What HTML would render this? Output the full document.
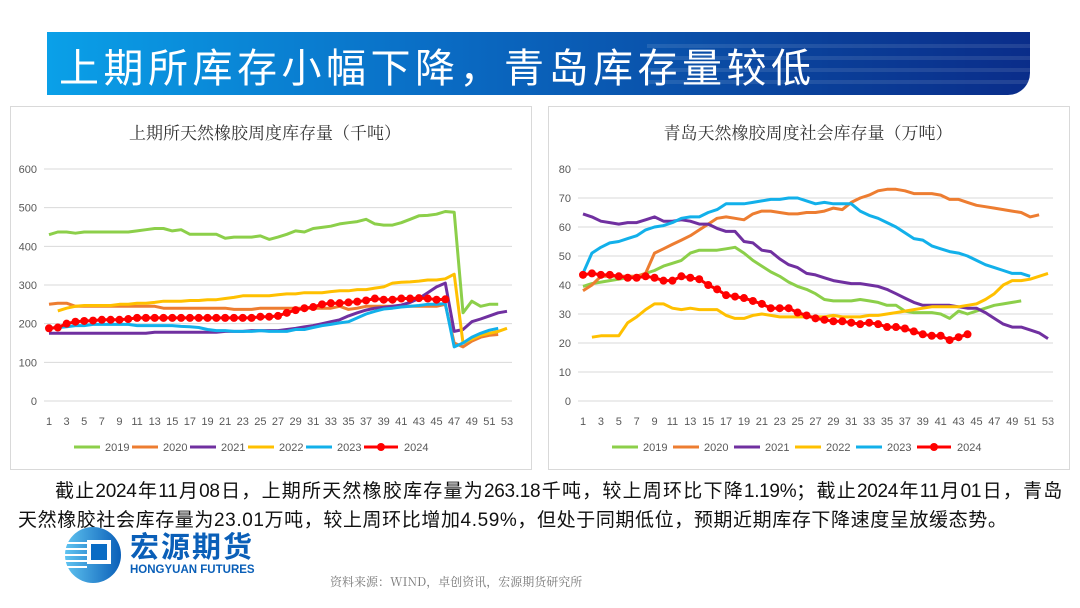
<!DOCTYPE html>
<html><head><meta charset="utf-8">
<style>
body{margin:0;width:1080px;height:608px;background:#fff;position:relative;overflow:hidden;font-family:"Liberation Sans","Noto Sans CJK SC",sans-serif}
.banner{position:absolute;left:47px;top:32px;width:983px;height:63px;background:linear-gradient(90deg,#0aa0e8 0%,#0a6cc4 40%,#0a3e98 80%,#0a2d8a 100%);border-bottom-right-radius:22px;overflow:hidden}
.banner .stripe{position:absolute;left:600px;width:400px;height:4px;background:rgba(255,255,255,0.10)}
.banner h1{position:absolute;left:12px;top:4px;margin:0;color:#fff;font:400 40px "Noto Sans CJK SC",sans-serif;letter-spacing:4.5px;white-space:nowrap}
.panel{position:absolute;top:106px;height:362px;border:1px solid #d9d9d9;background:#fff}
.para{position:absolute;left:18px;width:1044px;font:19px "Liberation Sans","Noto Sans CJK SC",sans-serif;color:#111;line-height:29px;white-space:nowrap}
.src{position:absolute;left:330px;top:573px;font:12px "Noto Serif CJK SC",serif;color:#777}
</style></head><body>
<div class="banner">
<div class="stripe" style="top:12px"></div><div class="stripe" style="top:24px"></div><div class="stripe" style="top:36px"></div><div class="stripe" style="top:48px"></div>
<h1>上期所库存小幅下降，青岛库存量较低</h1>
</div>
<div class="panel" style="left:10px;width:520px"></div>
<div class="panel" style="left:548px;width:520px"></div>
<svg id="svg" width="1080" height="608" style="position:absolute;left:0;top:0"></svg>
<div class="para" style="top:477px;left:55px;width:1007px;text-align:justify;text-align-last:justify;letter-spacing:-0.3px">截止2024年11月08日，上期所天然橡胶库存量为263.18千吨，较上周环比下降1.19%；截止2024年11月01日，青岛</div>
<div class="para" style="top:506px;letter-spacing:0.6px">天然橡胶社会库存量为23.01万吨，较上周环比增加4.59%，但处于同期低位，预期近期库存下降速度呈放缓态势。</div>
<svg width="260" height="64" style="position:absolute;left:62px;top:526px">
<defs><linearGradient id="lg" x1="0" x2="1"><stop offset="0" stop-color="#5fc3f0"/><stop offset="1" stop-color="#0a5fb8"/></linearGradient></defs>
<circle cx="31" cy="29" r="28" fill="url(#lg)"/>
<rect x="3" y="16" width="22" height="2" fill="#fff"/><rect x="3" y="22" width="22" height="2" fill="#fff"/><rect x="3" y="28" width="22" height="2" fill="#fff"/><rect x="3" y="34" width="22" height="2" fill="#fff"/><rect x="3" y="40" width="22" height="2" fill="#fff"/>
<rect x="25" y="14" width="24" height="24" fill="#fff"/><rect x="29" y="18" width="16" height="16" fill="#0a6cc4"/>
<text x="68" y="31" font-size="29" font-weight="bold" fill="#0a5fb8" font-family="Noto Sans CJK SC,sans-serif" letter-spacing="2">宏源期货</text>
<text x="68" y="47" font-size="11.5" font-weight="bold" fill="#0a5fb8" font-family="Liberation Sans,sans-serif">HONGYUAN FUTURES</text>
</svg>
<div class="src">资料来源：WIND，卓创资讯，宏源期货研究所</div>
<script>
const weeks=[];for(let i=1;i<=53;i++)weeks.push(i);
const leftTicks=[0,100,200,300,400,500,600];
const rightTicks=[0,10,20,30,40,50,60,70,80];
const years=["2019","2020","2021","2022","2023","2024"];
const colors=["#8ccf4a","#ed7d31","#7030a0","#ffc000","#12b0ea","#ff0000"];
const L2019=[430,437,437,434,437,437,437,437,437,437,440,443,446,446,440,443,431,431,431,431,421,424,424,424,427,418,424,431,440,437,446,449,452,458,461,464,470,458,455,455,461,470,479,480,483,490,488,228,258,245,250,250];
const L2020=[250,253,253,245,245,245,245,245,245,245,245,245,245,240,240,240,240,240,240,240,240,237,237,237,240,240,240,240,240,240,240,240,240,245,237,240,245,245,245,245,245,245,245,245,245,250,150,140,155,165,170,172];
const L2021=[175,175,175,175,175,175,175,175,175,175,175,175,178,178,178,178,178,178,178,178,180,180,180,182,182,182,182,185,188,192,195,200,205,210,220,228,235,240,242,245,248,255,265,280,295,305,180,185,205,212,220,228,232];
const L2022=[null,233,240,245,247,247,247,247,250,250,253,253,255,258,258,258,260,260,262,262,265,268,272,272,272,272,275,277,277,280,280,280,283,285,285,288,288,292,295,305,307,308,310,313,313,316,328,150,160,170,175,180,188];
const L2023=[188,190,192,195,195,198,198,198,198,198,195,195,195,195,195,193,192,190,185,182,182,180,180,180,182,180,180,180,185,185,190,195,198,202,205,215,225,232,238,240,243,245,247,250,250,252,140,150,165,175,183,188];
const L2024=[188,190,200,205,207,208,210,210,210,212,215,215,215,215,215,215,215,215,215,215,215,215,215,215,218,218,220,228,235,240,243,250,253,253,255,257,260,265,262,262,265,265,266,265,262,263];
const R2019=[39.5,40.5,41,41.5,42,42.5,43,44,45,46.5,47.5,48.5,51,52,52,52,52.5,53,51,48.5,46.5,44.5,43,41,39.5,38.5,37,35,34.5,34.5,34.5,35,34.5,34,33,33,31,30.5,30.5,30.5,30,28.5,31,30,31,32,33,33.5,34,34.5];
const R2020=[38,40,43,43,43,43,43,44,51,52.5,54,55.5,57,59,61,63,63.5,63,62.5,64.5,65.5,65.5,65,64.5,64.5,65,65,65.5,66.5,66,68.5,70,71,72.5,73,73,72.5,71.5,71.5,71.5,71,69.5,69.5,68.5,67.5,67,66.5,66,65.5,65,63.5,64.2];
const R2021=[64.5,63.5,62,61.5,61,61.5,61.5,62.5,63.5,62,62,62.5,62,61,61,59.5,58.5,58.5,55,54.5,52,51.5,49,47,46,44,43.5,42.5,41.5,41,40.5,40.5,40,39.5,38.5,37,35.5,34,33,33,33,33,32.5,32,32,30.5,28.5,26.5,25.5,25.5,24.5,23.5,21.5];
const R2022=[null,22,22.5,22.5,22.5,27,29,31.5,33.5,33.5,32,31.5,32,31.5,31.5,31.5,29.5,28.5,28.5,29.5,30,29.5,29,29,29,29,29,29,29.5,29,29,29,29.5,29.5,30,30.5,31,31.5,32,32.5,32.5,32.5,32.5,33,33.5,35,37,40,41.5,41.5,42,43,44];
const R2023=[44,51,53,54.5,55,56,57,59,60,60.5,61.5,63,63.5,63.5,65,66,68,68,68,68.5,69,69.5,69.5,70,70,69,68,68.5,68,68,68,65.5,64,63,61.5,60,58,56,55.5,53.5,52.5,51.5,51,50,48.5,47,46,45,44,44,43];
const R2024=[43.5,44,43.5,43.5,43,42.5,42.5,43,42.5,41.5,41.5,43,42.5,42,40,38.5,36.5,36,35.5,34.5,33.5,32,32,32,30.5,29.5,28.5,28,27.5,27.5,27,26.5,27,26.5,25.5,25.5,25,24,23,22.5,22.5,21,22,23];
const svg=document.getElementById('svg');const NS="http://www.w3.org/2000/svg";
function mk(t,a,txt){const e=document.createElementNS(NS,t);for(const k in a)e.setAttribute(k,a[k]);if(txt!=null)e.textContent=txt;svg.appendChild(e);return e;}
function chart(key,title,tcx,x0,x1,yTop,yBot,ymax,ticks,series,legX,legStep){
 const sx=w=>x0+(w-1)*(x1-x0)/52, sy=v=>yBot-v/ymax*(yBot-yTop);
 let t=mk('text',{x:tcx,y:139,'text-anchor':'middle','font-size':17,fill:'#333','font-family':'Noto Serif CJK SC,serif'},title);
 
 ticks.forEach(v=>{const g=mk('line',{x1:x0-5,x2:x1+5,y1:sy(v),y2:sy(v),stroke:'#d9d9d9','stroke-width':1});
  
  const l=mk('text',{x:x0-12,y:sy(v)+4,'text-anchor':'end','font-size':11,fill:'#595959'},String(v));
  });
 weeks.forEach(w=>{if(w%2==1){const l=mk('text',{x:sx(w),y:yBot+24,'text-anchor':'middle','font-size':11,fill:'#595959'},String(w));
  }});
 series.forEach((s,i)=>{let d='',pen=false;s.forEach((v,j)=>{if(v==null){pen=false;return;}d+=(pen?'L':'M')+sx(j+1).toFixed(1)+' '+sy(v).toFixed(1);pen=true;});
  const p=mk('path',{d:d,fill:'none',stroke:colors[i],'stroke-width':3,'stroke-linejoin':'round'});
  
  if(i==5)s.forEach((v,j)=>{if(v==null)return;const c=mk('circle',{cx:sx(j+1),cy:sy(v),r:4,fill:'#ff0000'});
   });
  const lx=legX+i*legStep,ly=447;
  const ll=mk('line',{x1:lx,x2:lx+(i==5?34:26),y1:ly,y2:ly,stroke:colors[i],'stroke-width':3});
  
  if(i==5){const c=mk('circle',{cx:lx+17,cy:ly,r:4,fill:'#ff0000'});}
  const lt=mk('text',{x:lx+(i==5?40:31),y:ly+4,'font-size':11,fill:'#595959'},years[i]);
  });
}
chart('left','上期所天然橡胶周度库存量（千吨）',265,49,507,169,401,600,leftTicks,[L2019,L2020,L2021,L2022,L2023,L2024],74,58);
chart('right','青岛天然橡胶周度社会库存量（万吨）',808,583,1048,169,401,80,rightTicks,[R2019,R2020,R2021,R2022,R2023,R2024],612,61);
</script>
</body></html>
